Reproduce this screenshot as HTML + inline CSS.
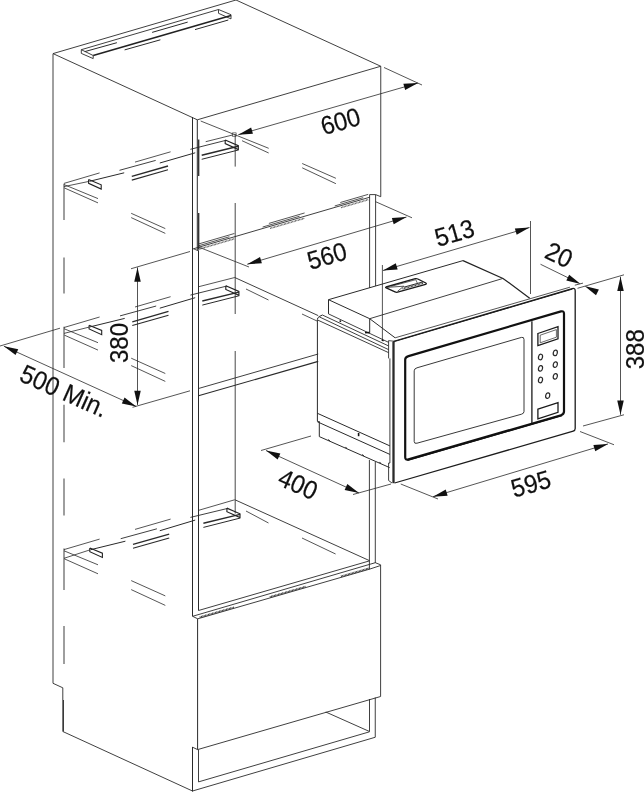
<!DOCTYPE html>
<html lang="en">
<head>
<meta charset="utf-8">
<title>Built-in microwave installation dimensions</title>
<style>
html,body{margin:0;padding:0;background:#fff;}
body{width:644px;height:792px;overflow:hidden;}
svg{display:block;filter:grayscale(1);}
svg text{font-family:"Liberation Sans",Arial,Helvetica,sans-serif;fill:#111;}
</style>
</head>
<body>
<svg width="644" height="792" viewBox="0 0 644 792">
<rect width="644" height="792" fill="#fff"/>
<line x1="53" y1="53.6" x2="236" y2="0" stroke="#2a2a2a" stroke-width="0.9"/>
<line x1="236" y1="0" x2="380.75" y2="66.25" stroke="#2a2a2a" stroke-width="0.9"/>
<line x1="53" y1="53.6" x2="197.3" y2="119.8" stroke="#2a2a2a" stroke-width="0.9"/>
<line x1="197.3" y1="119.8" x2="380.75" y2="66.25" stroke="#2a2a2a" stroke-width="0.9"/>
<line x1="53" y1="53.7" x2="53" y2="683.3" stroke="#2a2a2a" stroke-width="0.9"/>
<path d="M53 683.3 L62.8 687.8 L62.8 731.5 L192.5 791" fill="none" stroke="#2a2a2a" stroke-width="0.9" stroke-linejoin="miter"/>
<line x1="63.5" y1="700" x2="63.5" y2="731.5" stroke="#2a2a2a" stroke-width="0.9"/>
<line x1="192.5" y1="117" x2="192.5" y2="616.3" stroke="#2a2a2a" stroke-width="1"/>
<line x1="197.3" y1="119.8" x2="197.3" y2="250.3" stroke="#2a2a2a" stroke-width="1"/>
<line x1="198.5" y1="250.3" x2="198.5" y2="610.5" stroke="#2a2a2a" stroke-width="1"/>
<line x1="192.6" y1="248.4" x2="198.5" y2="250.9" stroke="#2a2a2a" stroke-width="0.8"/>
<line x1="380.75" y1="66.25" x2="380.75" y2="196.7" stroke="#2a2a2a" stroke-width="0.9"/>
<line x1="380.75" y1="196.7" x2="375.6" y2="194.6" stroke="#2a2a2a" stroke-width="0.9"/>
<line x1="375.6" y1="194.6" x2="375.6" y2="286" stroke="#2a2a2a" stroke-width="0.9"/>
<line x1="369.6" y1="194.6" x2="369.6" y2="288" stroke="#2a2a2a" stroke-width="0.9"/>
<line x1="369.6" y1="194.6" x2="375.6" y2="194.6" stroke="#2a2a2a" stroke-width="0.9"/>
<line x1="369.4" y1="460" x2="369.4" y2="569.4" stroke="#2a2a2a" stroke-width="0.9"/>
<line x1="375.3" y1="462" x2="375.3" y2="563" stroke="#2a2a2a" stroke-width="0.9"/>
<line x1="380.6" y1="564.8" x2="380.6" y2="696.5" stroke="#2a2a2a" stroke-width="0.9"/>
<line x1="81.3" y1="49.7" x2="218.5" y2="9.5" stroke="#2a2a2a" stroke-width="0.9"/>
<line x1="93.2" y1="55.5" x2="231" y2="15.4" stroke="#222" stroke-width="1.6"/>
<path d="M81.3 49.7 L81.3 53.4 L93.2 58.6 L93.2 55.5 L81.3 49.7" fill="none" stroke="#2a2a2a" stroke-width="0.9" stroke-linejoin="miter"/>
<path d="M218.5 9.5 L231 14.7 L231 18.9 L218.5 13.3 L218.5 9.5" fill="none" stroke="#2a2a2a" stroke-width="0.9" stroke-linejoin="miter"/>
<line x1="84.8" y1="51.6" x2="116.9" y2="42.7" stroke="#2a2a2a" stroke-width="1"/>
<line x1="152.1" y1="32.4" x2="187.7" y2="22.1" stroke="#2a2a2a" stroke-width="1"/>
<line x1="124.6" y1="49.9" x2="160.4" y2="39.8" stroke="#2a2a2a" stroke-width="1"/>
<line x1="195" y1="29.6" x2="228.3" y2="20" stroke="#2a2a2a" stroke-width="1"/>
<line x1="235.2" y1="134" x2="235.2" y2="166.6" stroke="#333" stroke-width="0.9"/>
<line x1="235.2" y1="203" x2="235.2" y2="314" stroke="#333" stroke-width="0.9"/>
<line x1="235.2" y1="351" x2="235.2" y2="513.5" stroke="#333" stroke-width="0.9"/>
<line x1="64" y1="183.7" x2="64" y2="220" stroke="#333" stroke-width="0.95"/>
<line x1="64" y1="257.5" x2="64" y2="293.5" stroke="#333" stroke-width="0.95"/>
<line x1="64" y1="326.75" x2="64" y2="368" stroke="#333" stroke-width="0.95"/>
<line x1="64" y1="404.75" x2="64" y2="442.25" stroke="#333" stroke-width="0.95"/>
<line x1="64" y1="478.5" x2="64" y2="515.5" stroke="#333" stroke-width="0.95"/>
<line x1="64" y1="548.5" x2="64" y2="590" stroke="#333" stroke-width="0.95"/>
<line x1="64" y1="626" x2="64" y2="664" stroke="#333" stroke-width="0.95"/>
<line x1="64" y1="183.4" x2="99.6" y2="172.9" stroke="#2a2a2a" stroke-width="0.8"/>
<line x1="64" y1="186.6" x2="89" y2="181.4" stroke="#2a2a2a" stroke-width="0.8"/>
<line x1="64" y1="184.6" x2="98" y2="198.6" stroke="#2a2a2a" stroke-width="0.8"/>
<line x1="64.3" y1="187.9" x2="98" y2="202.9" stroke="#2a2a2a" stroke-width="0.8"/>
<path d="M88.6 179.6 L88.6 183.3 L101.2 189.1 L101.2 184.8 L88.6 179.6" fill="none" stroke="#222" stroke-width="1.1" stroke-linejoin="miter"/>
<line x1="89.5" y1="181.3" x2="124.2" y2="172.8" stroke="#2a2a2a" stroke-width="1"/>
<line x1="159.8" y1="163" x2="195.2" y2="152.8" stroke="#2a2a2a" stroke-width="1"/>
<line x1="119.5" y1="170.3" x2="155.7" y2="160.4" stroke="#2a2a2a" stroke-width="0.9"/>
<line x1="135" y1="162.1" x2="170.6" y2="151.8" stroke="#2a2a2a" stroke-width="0.8"/>
<line x1="131.8" y1="176.3" x2="168" y2="166" stroke="#2a2a2a" stroke-width="1.3"/>
<line x1="131.8" y1="180.1" x2="168" y2="169.8" stroke="#2a2a2a" stroke-width="1.1"/>
<line x1="190.4" y1="149.3" x2="226" y2="140.3" stroke="#2a2a2a" stroke-width="0.9"/>
<line x1="201.7" y1="155.2" x2="238.3" y2="146.3" stroke="#2a2a2a" stroke-width="1.4"/>
<line x1="201.7" y1="159.3" x2="238.3" y2="150" stroke="#2a2a2a" stroke-width="1"/>
<path d="M225.2 140 L238.3 145.7 L238.3 149.5 L225.2 143.6 L225.2 140" fill="none" stroke="#222" stroke-width="1.15" stroke-linejoin="miter"/>
<line x1="131.2" y1="213.3" x2="165.3" y2="228.6" stroke="#2a2a2a" stroke-width="0.8"/>
<line x1="131.2" y1="217.6" x2="165.3" y2="233.4" stroke="#2a2a2a" stroke-width="0.8"/>
<line x1="198.7" y1="139.6" x2="198.7" y2="176" stroke="#2a2a2a" stroke-width="1.3"/>
<line x1="64" y1="327.5" x2="99.6" y2="317" stroke="#2a2a2a" stroke-width="0.8"/>
<line x1="64" y1="333.4" x2="89.5" y2="327" stroke="#2a2a2a" stroke-width="0.8"/>
<line x1="64" y1="328.7" x2="98" y2="342.7" stroke="#2a2a2a" stroke-width="0.8"/>
<line x1="64.3" y1="335.1" x2="98" y2="350.1" stroke="#2a2a2a" stroke-width="0.8"/>
<path d="M89.1 325.2 L89.1 328.9 L101.7 334.7 L101.7 330.4 L89.1 325.2" fill="none" stroke="#222" stroke-width="1.1" stroke-linejoin="miter"/>
<line x1="90" y1="326.9" x2="124.7" y2="318.4" stroke="#2a2a2a" stroke-width="1"/>
<line x1="159.8" y1="308.18" x2="195.2" y2="297.7" stroke="#2a2a2a" stroke-width="1"/>
<line x1="120" y1="315.9" x2="156.2" y2="306" stroke="#2a2a2a" stroke-width="0.9"/>
<line x1="135" y1="307" x2="170.6" y2="296.7" stroke="#2a2a2a" stroke-width="0.8"/>
<line x1="132.3" y1="321.76" x2="168.5" y2="311.46" stroke="#2a2a2a" stroke-width="1.3"/>
<line x1="132.3" y1="325.56" x2="168.5" y2="315.26" stroke="#2a2a2a" stroke-width="1.1"/>
<line x1="190.4" y1="295.1" x2="226.6" y2="286.1" stroke="#2a2a2a" stroke-width="0.9"/>
<line x1="202.3" y1="301" x2="238.9" y2="292.1" stroke="#2a2a2a" stroke-width="1.4"/>
<line x1="202.3" y1="305.1" x2="238.9" y2="295.8" stroke="#2a2a2a" stroke-width="1"/>
<path d="M225.8 285.8 L238.9 291.5 L238.9 295.3 L225.8 289.4 L225.8 285.8" fill="none" stroke="#222" stroke-width="1.15" stroke-linejoin="miter"/>
<line x1="131.2" y1="358.2" x2="165.3" y2="373.5" stroke="#2a2a2a" stroke-width="0.8"/>
<line x1="131.2" y1="365.6" x2="165.3" y2="381.4" stroke="#2a2a2a" stroke-width="0.8"/>
<line x1="64" y1="549.6" x2="99.6" y2="539.1" stroke="#2a2a2a" stroke-width="0.8"/>
<line x1="64" y1="558.3" x2="90.2" y2="549.8" stroke="#2a2a2a" stroke-width="0.8"/>
<line x1="64" y1="550.8" x2="98" y2="564.8" stroke="#2a2a2a" stroke-width="0.8"/>
<line x1="64.3" y1="558.8" x2="98" y2="573.8" stroke="#2a2a2a" stroke-width="0.8"/>
<path d="M89.8 548 L89.8 551.7 L102.4 557.5 L102.4 553.2 L89.8 548" fill="none" stroke="#222" stroke-width="1.1" stroke-linejoin="miter"/>
<line x1="90.7" y1="549.7" x2="125.4" y2="541.2" stroke="#2a2a2a" stroke-width="1"/>
<line x1="159.8" y1="530.74" x2="195.2" y2="520.1" stroke="#2a2a2a" stroke-width="1"/>
<line x1="120.7" y1="538.7" x2="156.9" y2="528.8" stroke="#2a2a2a" stroke-width="0.9"/>
<line x1="135" y1="529.4" x2="170.6" y2="519.1" stroke="#2a2a2a" stroke-width="0.8"/>
<line x1="133" y1="544.48" x2="169.2" y2="534.18" stroke="#2a2a2a" stroke-width="1.3"/>
<line x1="133" y1="548.28" x2="169.2" y2="537.98" stroke="#2a2a2a" stroke-width="1.1"/>
<line x1="190.4" y1="517.4" x2="227.7" y2="508.4" stroke="#2a2a2a" stroke-width="0.9"/>
<line x1="203.4" y1="523.3" x2="240" y2="514.4" stroke="#2a2a2a" stroke-width="1.4"/>
<line x1="203.4" y1="527.4" x2="240" y2="518.1" stroke="#2a2a2a" stroke-width="1"/>
<path d="M226.9 508.1 L240 513.8 L240 517.6 L226.9 511.7 L226.9 508.1" fill="none" stroke="#222" stroke-width="1.15" stroke-linejoin="miter"/>
<line x1="131.2" y1="580.6" x2="165.3" y2="595.9" stroke="#2a2a2a" stroke-width="0.8"/>
<line x1="131.2" y1="589.6" x2="165.3" y2="605.4" stroke="#2a2a2a" stroke-width="0.8"/>
<line x1="200.7" y1="121" x2="268.7" y2="148.3" stroke="#2a2a2a" stroke-width="0.8"/>
<line x1="302.2" y1="163.5" x2="335.9" y2="178.3" stroke="#2a2a2a" stroke-width="0.8"/>
<line x1="242" y1="140.7" x2="268.7" y2="153" stroke="#2a2a2a" stroke-width="0.8"/>
<line x1="302.2" y1="167.8" x2="335.9" y2="183.7" stroke="#2a2a2a" stroke-width="0.8"/>
<line x1="205.7" y1="141.7" x2="233.3" y2="134.8" stroke="#2a2a2a" stroke-width="0.8"/>
<path d="M232.4 132.8 L236.2 132.8 L236.2 136.4 L232.4 136.4 Z" fill="none" stroke="#2a2a2a" stroke-width="0.6" stroke-linejoin="miter"/>
<line x1="234.75" y1="277.5" x2="318.2" y2="315.6" stroke="#2a2a2a" stroke-width="0.9"/>
<line x1="198.5" y1="286.75" x2="234.75" y2="277.5" stroke="#2a2a2a" stroke-width="0.8"/>
<line x1="246" y1="289" x2="268.5" y2="300" stroke="#2a2a2a" stroke-width="0.8"/>
<line x1="302" y1="314" x2="317" y2="321" stroke="#2a2a2a" stroke-width="0.8"/>
<line x1="235.2" y1="499.9" x2="369.4" y2="560.6" stroke="#2a2a2a" stroke-width="0.9"/>
<line x1="198" y1="510.5" x2="234.75" y2="499.75" stroke="#2a2a2a" stroke-width="0.8"/>
<line x1="246" y1="511" x2="268.5" y2="523" stroke="#2a2a2a" stroke-width="0.8"/>
<line x1="302" y1="538" x2="335.6" y2="554" stroke="#2a2a2a" stroke-width="0.8"/>
<line x1="193.7" y1="248.7" x2="369.8" y2="197.2" stroke="#2a2a2a" stroke-width="0.9"/>
<line x1="199" y1="243.85" x2="234.4" y2="233.497" stroke="#2a2a2a" stroke-width="0.8"/>
<line x1="199" y1="245.65" x2="229.4" y2="236.76" stroke="#2a2a2a" stroke-width="0.8"/>
<line x1="198.5" y1="249.296" x2="234.4" y2="238.797" stroke="#5a5a5a" stroke-width="1.5" stroke-dasharray="0.9 0.55"/>
<line x1="268.9" y1="223.408" x2="304.6" y2="212.968" stroke="#2a2a2a" stroke-width="0.8"/>
<line x1="262.6" y1="227.05" x2="299.6" y2="216.23" stroke="#2a2a2a" stroke-width="0.8"/>
<line x1="270" y1="228.386" x2="304.6" y2="218.268" stroke="#5a5a5a" stroke-width="1.5" stroke-dasharray="0.9 0.55"/>
<line x1="340.3" y1="202.527" x2="368.2" y2="194.368" stroke="#2a2a2a" stroke-width="0.8"/>
<line x1="334.7" y1="205.965" x2="363.2" y2="197.63" stroke="#2a2a2a" stroke-width="0.8"/>
<line x1="341" y1="207.622" x2="368.2" y2="199.668" stroke="#5a5a5a" stroke-width="1.5" stroke-dasharray="0.9 0.55"/>
<line x1="198.7" y1="213" x2="198.7" y2="249.5" stroke="#2a2a2a" stroke-width="1.3"/>
<line x1="198.5" y1="388.5" x2="318.2" y2="354" stroke="#2a2a2a" stroke-width="0.9"/>
<line x1="198.5" y1="395.8" x2="318.2" y2="361.4" stroke="#2a2a2a" stroke-width="1.1"/>
<line x1="198.5" y1="610.5" x2="369.4" y2="560.9" stroke="#2a2a2a" stroke-width="0.9"/>
<line x1="192.6" y1="616.3" x2="375.3" y2="562.7" stroke="#2a2a2a" stroke-width="0.9"/>
<line x1="375.3" y1="562.7" x2="380.6" y2="564.8" stroke="#2a2a2a" stroke-width="0.9"/>
<line x1="192.6" y1="616.3" x2="197.7" y2="618.8" stroke="#2a2a2a" stroke-width="0.9"/>
<path d="M197.7 618.8 L369.4 569.2 L380.6 565.5" fill="none" stroke="#2a2a2a" stroke-width="0.9" stroke-linejoin="miter"/>
<line x1="199.7" y1="617.222" x2="233.9" y2="607.343" stroke="#333" stroke-width="1.7" stroke-dasharray="0.9 0.55"/>
<line x1="269.8" y1="596.972" x2="305.6" y2="586.63" stroke="#333" stroke-width="1.7" stroke-dasharray="0.9 0.55"/>
<line x1="340.9" y1="576.433" x2="369.2" y2="568.258" stroke="#333" stroke-width="1.7" stroke-dasharray="0.9 0.55"/>
<line x1="197.6" y1="618.8" x2="197.6" y2="749.6" stroke="#2a2a2a" stroke-width="1"/>
<line x1="197.6" y1="749.6" x2="380.6" y2="696.5" stroke="#2a2a2a" stroke-width="0.9"/>
<line x1="192.5" y1="747" x2="192.5" y2="791.5" stroke="#2a2a2a" stroke-width="1"/>
<line x1="192.5" y1="747.2" x2="197.6" y2="749.6" stroke="#2a2a2a" stroke-width="0.9"/>
<line x1="192.5" y1="791" x2="375.25" y2="737.25" stroke="#2a2a2a" stroke-width="0.9"/>
<line x1="198.5" y1="749.6" x2="198.5" y2="781.9" stroke="#2a2a2a" stroke-width="0.9"/>
<line x1="198.5" y1="781.9" x2="369.5" y2="731.8" stroke="#2a2a2a" stroke-width="0.9"/>
<line x1="369.5" y1="699" x2="369.5" y2="731.5" stroke="#2a2a2a" stroke-width="0.9"/>
<line x1="375.25" y1="697.5" x2="375.25" y2="737.25" stroke="#2a2a2a" stroke-width="0.9"/>
<line x1="325.75" y1="712" x2="369.5" y2="731.5" stroke="#2a2a2a" stroke-width="0.9"/>
<line x1="238.3" y1="134.7" x2="418" y2="83" stroke="#2a2a2a" stroke-width="0.8"/>
<polygon points="238.30,134.70 251.14,127.62 252.94,133.87" fill="#111"/>
<polygon points="418.00,83.00 405.16,90.08 403.36,83.83" fill="#111"/>
<line x1="384" y1="67.5" x2="422" y2="85" stroke="#2a2a2a" stroke-width="0.8"/>
<text transform="translate(340.5 121.4) rotate(-16) scale(0.935 1)" x="0" y="0" font-size="25.68" text-anchor="middle" dominant-baseline="central" stroke="#111" stroke-width="0.2">600</text>
<line x1="247.25" y1="264.25" x2="406.5" y2="217" stroke="#2a2a2a" stroke-width="0.8"/>
<polygon points="247.25,264.25 260.03,257.07 261.88,263.30" fill="#111"/>
<polygon points="406.50,217.00 393.72,224.18 391.87,217.95" fill="#111"/>
<line x1="198" y1="246.8" x2="249" y2="267" stroke="#2a2a2a" stroke-width="0.8"/>
<line x1="375.6" y1="201.7" x2="412" y2="217.8" stroke="#2a2a2a" stroke-width="0.8"/>
<text transform="translate(327 256) rotate(-16) scale(0.935 1)" x="0" y="0" font-size="25.68" text-anchor="middle" dominant-baseline="central" stroke="#111" stroke-width="0.2">560</text>
<line x1="383" y1="270.5" x2="529.5" y2="227.5" stroke="#2a2a2a" stroke-width="0.8"/>
<polygon points="383.00,270.50 395.81,263.35 397.64,269.59" fill="#111"/>
<polygon points="529.50,227.50 516.69,234.65 514.86,228.41" fill="#111"/>
<line x1="382.4" y1="265" x2="382.4" y2="340.5" stroke="#2a2a2a" stroke-width="0.8"/>
<line x1="530.5" y1="221" x2="530.5" y2="294" stroke="#2a2a2a" stroke-width="0.8"/>
<text transform="translate(454.5 233) rotate(-16) scale(0.935 1)" x="0" y="0" font-size="25.68" text-anchor="middle" dominant-baseline="central" stroke="#111" stroke-width="0.2">513</text>
<line x1="540.5" y1="264.25" x2="572" y2="279.7" stroke="#2a2a2a" stroke-width="0.8"/>
<polygon points="580.60,283.90 566.33,280.53 569.19,274.69" fill="#111"/>
<polygon points="584.60,286.10 598.86,289.51 595.99,295.34" fill="#111"/>
<text transform="translate(559 255) rotate(25) scale(0.935 1)" x="0" y="0" font-size="25.68" text-anchor="middle" dominant-baseline="central" stroke="#111" stroke-width="0.2">20</text>
<line x1="577.5" y1="288.3" x2="624" y2="274.8" stroke="#2a2a2a" stroke-width="0.8"/>
<line x1="574.8" y1="285.2" x2="583" y2="283.1" stroke="#2a2a2a" stroke-width="0.8"/>
<line x1="620.5" y1="276.75" x2="620.5" y2="414.75" stroke="#2a2a2a" stroke-width="0.8"/>
<polygon points="620.50,276.75 623.75,291.05 617.25,291.05" fill="#111"/>
<polygon points="620.50,414.75 617.25,400.45 623.75,400.45" fill="#111"/>
<line x1="583" y1="426" x2="624" y2="414.75" stroke="#2a2a2a" stroke-width="0.8"/>
<text transform="translate(635.3 349.3) rotate(-90) scale(0.935 1)" x="0" y="0" font-size="25.68" text-anchor="middle" dominant-baseline="central" stroke="#111" stroke-width="0.2">388</text>
<line x1="433" y1="496.7" x2="608" y2="443.9" stroke="#2a2a2a" stroke-width="0.8"/>
<polygon points="433.00,496.70 445.75,489.46 447.63,495.68" fill="#111"/>
<polygon points="608.00,443.90 595.25,451.14 593.37,444.92" fill="#111"/>
<line x1="400.75" y1="484" x2="438" y2="499" stroke="#2a2a2a" stroke-width="0.8"/>
<line x1="580" y1="431.5" x2="614" y2="444.75" stroke="#2a2a2a" stroke-width="0.8"/>
<text transform="translate(530.9 483.9) rotate(-16) scale(0.935 1)" x="0" y="0" font-size="25.68" text-anchor="middle" dominant-baseline="central" stroke="#111" stroke-width="0.2">595</text>
<line x1="266" y1="450.5" x2="359" y2="493" stroke="#2a2a2a" stroke-width="0.8"/>
<polygon points="266.00,450.50 280.36,453.49 277.66,459.40" fill="#111"/>
<polygon points="359.00,493.00 344.64,490.01 347.34,484.10" fill="#111"/>
<line x1="261" y1="450.5" x2="311" y2="436" stroke="#2a2a2a" stroke-width="0.8"/>
<line x1="353" y1="494.5" x2="391" y2="484" stroke="#2a2a2a" stroke-width="0.8"/>
<text transform="translate(298 484.3) rotate(24) scale(0.935 1)" x="0" y="0" font-size="25.68" text-anchor="middle" dominant-baseline="central" stroke="#111" stroke-width="0.2">400</text>
<line x1="137.5" y1="267.4" x2="137.5" y2="405" stroke="#2a2a2a" stroke-width="0.8"/>
<polygon points="137.50,267.40 140.75,281.70 134.25,281.70" fill="#111"/>
<polygon points="137.50,405.00 134.25,390.70 140.75,390.70" fill="#111"/>
<line x1="131" y1="268.75" x2="190" y2="251.5" stroke="#2a2a2a" stroke-width="0.8"/>
<line x1="132.5" y1="407.3" x2="190" y2="390.8" stroke="#2a2a2a" stroke-width="0.8"/>
<text transform="translate(119.5 343) rotate(-90) scale(0.935 1)" x="0" y="0" font-size="25.68" text-anchor="middle" dominant-baseline="central" stroke="#111" stroke-width="0.2">380</text>
<line x1="3.9" y1="346.2" x2="136.2" y2="406.4" stroke="#2a2a2a" stroke-width="0.8"/>
<polygon points="3.90,346.20 18.26,349.16 15.57,355.08" fill="#111"/>
<polygon points="136.20,406.40 121.84,403.44 124.53,397.52" fill="#111"/>
<line x1="0" y1="346" x2="60" y2="328.2" stroke="#2a2a2a" stroke-width="0.8"/>
<text transform="translate(64.2 390.7) rotate(24) scale(0.935 1)" x="0" y="0" font-size="25.89" text-anchor="middle" dominant-baseline="central" stroke="#111" stroke-width="0.2">500 Min.</text>
<path d="M328.5 313.9 L328.5 299.7 L463 260.6" fill="none" stroke="#2a2a2a" stroke-width="1" stroke-linejoin="miter"/>
<path d="M463 260.6 L503 278.4 L529.7 298.2" fill="none" stroke="#222" stroke-width="1.2" stroke-linejoin="miter"/>
<line x1="328.5" y1="299.7" x2="369.7" y2="318.7" stroke="#2a2a2a" stroke-width="1"/>
<line x1="369.7" y1="318.7" x2="369.7" y2="332.6" stroke="#2a2a2a" stroke-width="1"/>
<line x1="369.7" y1="318.7" x2="503" y2="278.4" stroke="#2a2a2a" stroke-width="0.9"/>
<line x1="369.7" y1="318.7" x2="395.1" y2="337.8" stroke="#2a2a2a" stroke-width="1"/>
<line x1="328.5" y1="313.9" x2="388.5" y2="342.3" stroke="#2a2a2a" stroke-width="0.9"/>
<line x1="322.4" y1="315" x2="388.5" y2="345.9" stroke="#2a2a2a" stroke-width="0.9"/>
<line x1="319.2" y1="316.8" x2="388.5" y2="349.6" stroke="#2a2a2a" stroke-width="0.9"/>
<line x1="318" y1="320.2" x2="388.5" y2="352.6" stroke="#2a2a2a" stroke-width="0.9"/>
<path d="M322.4 315 L319.2 316.6 Q317.4 317.6 317.4 319.6 L317.4 421.3" fill="none" stroke="#2a2a2a" stroke-width="1"/>
<line x1="319.3" y1="421.3" x2="319.3" y2="436.6" stroke="#2a2a2a" stroke-width="1"/>
<line x1="317.4" y1="421.3" x2="319.3" y2="421.8" stroke="#2a2a2a" stroke-width="0.9"/>
<line x1="388.6" y1="340.6" x2="388.6" y2="358.4" stroke="#2a2a2a" stroke-width="0.9"/>
<line x1="388.6" y1="340.6" x2="393.8" y2="341.2" stroke="#2a2a2a" stroke-width="0.8"/>
<line x1="389.9" y1="358.4" x2="389.9" y2="463" stroke="#2a2a2a" stroke-width="0.9"/>
<line x1="317.4" y1="413.3" x2="389.9" y2="445.9" stroke="#2a2a2a" stroke-width="1"/>
<line x1="317.4" y1="421.8" x2="389.9" y2="454.4" stroke="#2a2a2a" stroke-width="1"/>
<line x1="319.3" y1="436.6" x2="389.6" y2="467.6" stroke="#2a2a2a" stroke-width="1"/>
<line x1="358.6" y1="433" x2="358.6" y2="436.2" stroke="#111" stroke-width="1.6"/>
<line x1="328.5" y1="439.457" x2="329.7" y2="440.857" stroke="#111" stroke-width="1"/>
<line x1="345.5" y1="446.953" x2="346.7" y2="448.353" stroke="#111" stroke-width="1"/>
<line x1="362.5" y1="454.45" x2="363.7" y2="455.85" stroke="#111" stroke-width="1"/>
<line x1="379.5" y1="461.946" x2="380.7" y2="463.346" stroke="#111" stroke-width="1"/>
<line x1="339.6" y1="320.6" x2="341" y2="321.6" stroke="#111" stroke-width="1.4"/>
<line x1="365" y1="332.6" x2="369.7" y2="332.6" stroke="#111" stroke-width="1.6"/>
<line x1="381.8" y1="339.8" x2="383.6" y2="340.8" stroke="#111" stroke-width="1.5"/>
<path d="M390 463 L388.6 463 L388.6 480.5 L392 483" fill="none" stroke="#2a2a2a" stroke-width="0.9" stroke-linejoin="miter"/>
<path d="M386 287 L415.3 278.7 Q416.6 278.4 417.8 279 L425.8 283 Q427 283.8 425.6 284.3 L397.6 292.2 Q396.2 292.5 395 291.9 L386.2 287.9 Q385 287.3 386 287 Z" fill="none" stroke="#1a1a1a" stroke-width="1.3"/>
<path d="M387 287.4 L403.8 286.2 L397.5 291.3" fill="none" stroke="#2a2a2a" stroke-width="0.8" stroke-linejoin="miter"/>
<line x1="391.3" y1="286.3" x2="415.8" y2="279.7" stroke="#2a2a2a" stroke-width="0.7"/>
<line x1="415.8" y1="279.7" x2="417.5" y2="283.5" stroke="#2a2a2a" stroke-width="0.7"/>
<line x1="403.8" y1="287.2" x2="423" y2="281.9" stroke="#2a2a2a" stroke-width="1"/>
<line x1="402.5" y1="288.9" x2="423.5" y2="283.1" stroke="#333" stroke-width="1.5" stroke-dasharray="0.9 0.55"/>
<path d="M393.6 342.5 Q393.6 341.3 394.8 341 L572.2 288.6 Q575.2 287.8 575.2 290.8 L575.2 428.6 Q575.2 430.6 573.2 431.2 L394.6 483" fill="none" stroke="#1c1c1c" stroke-width="1.3" stroke-linejoin="round"/>
<line x1="394.5" y1="341.5" x2="572.4" y2="289.1" stroke="#1c1c1c" stroke-width="1"/>
<line x1="393.5" y1="341.6" x2="393.5" y2="483.2" stroke="#2a2a2a" stroke-width="2.3"/>
<line x1="395.1" y1="337.8" x2="569.9" y2="287.2" stroke="#2a2a2a" stroke-width="0.8"/>
<path d="M408.5 356.1 L561 311.4 Q564 310.6 564 313.6 L564 411.6 Q564 414.3 561 415.2 L408.5 459.4 Q405.2 460.3 405.2 457.2 L405.2 359.6 Q405.2 357 408.5 356.1 Z" fill="none" stroke="#111" stroke-width="2.2"/>
<line x1="407.5" y1="460.3" x2="562" y2="415.5" stroke="#111" stroke-width="1.4"/>
<path d="M417 367.8 L521.5 337.4 Q524 336.7 524 339.6 L524 411.5 Q524 413.5 521.5 414.2 L417 443.2 Q414.2 444 414.2 441.5 L414.2 370.8 Q414.2 368.6 417 367.8 Z" fill="none" stroke="#222" stroke-width="0.9"/>
<line x1="531.9" y1="321.2" x2="531.9" y2="423.2" stroke="#1a1a1a" stroke-width="1.3"/>
<path d="M537.9 333.5 L558 326.7 L558 338.8 L537.9 345.6 Z" fill="none" stroke="#1a1a1a" stroke-width="1.3" stroke-linejoin="miter"/>
<path d="M540.2 335.2 L556.4 329.6 L556.4 337.2 L540.2 342.8 Z" fill="none" stroke="#2a2a2a" stroke-width="0.7" stroke-linejoin="miter"/>
<ellipse cx="540.5" cy="357" rx="2" ry="2.8" fill="none" stroke="#2a2a2a" stroke-width="1.2" transform="rotate(14 540.5 357)"/>
<ellipse cx="555.3" cy="352.9" rx="2" ry="2.8" fill="none" stroke="#2a2a2a" stroke-width="1.2" transform="rotate(14 555.3 352.9)"/>
<ellipse cx="540.5" cy="368.4" rx="2" ry="2.8" fill="none" stroke="#2a2a2a" stroke-width="1.2" transform="rotate(14 540.5 368.4)"/>
<ellipse cx="555.3" cy="364.6" rx="2" ry="2.8" fill="none" stroke="#2a2a2a" stroke-width="1.2" transform="rotate(14 555.3 364.6)"/>
<ellipse cx="540.5" cy="380" rx="2" ry="2.8" fill="none" stroke="#2a2a2a" stroke-width="1.2" transform="rotate(14 540.5 380)"/>
<ellipse cx="555.3" cy="376.4" rx="2" ry="2.8" fill="none" stroke="#2a2a2a" stroke-width="1.2" transform="rotate(14 555.3 376.4)"/>
<ellipse cx="547.7" cy="395.6" rx="2" ry="2.8" fill="none" stroke="#2a2a2a" stroke-width="1.2" transform="rotate(14 547.7 395.6)"/>
<path d="M537.9 409.2 L558 402.7 L558 412.3 L537.9 418.8 Z" fill="none" stroke="#1a1a1a" stroke-width="1.3" stroke-linejoin="miter"/>
</svg>
</body>
</html>
